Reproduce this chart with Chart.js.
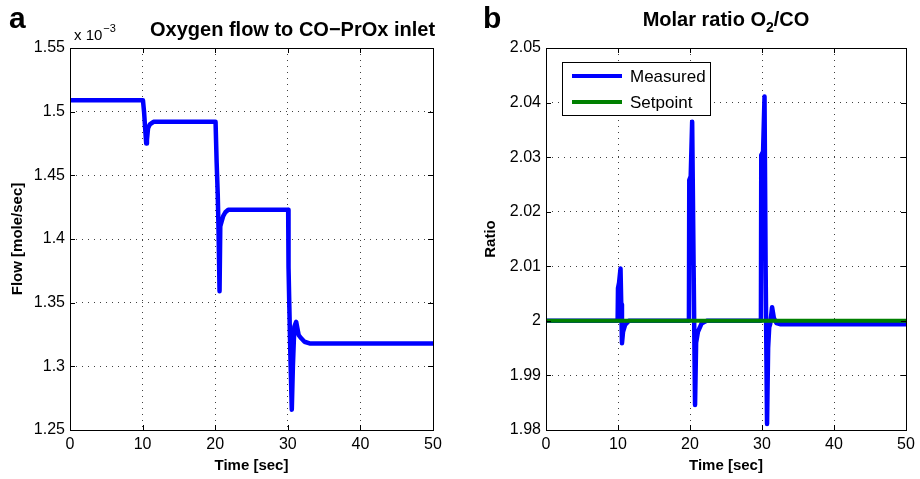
<!DOCTYPE html>
<html>
<head>
<meta charset="utf-8">
<script src="https://cdn.jsdelivr.net/npm/chart.js@4.4.1/dist/chart.umd.min.js"></script>
<style>
  body { margin: 0; background: #fff; }
  .wrap { position: absolute; top: 0; width: 460px; height: 479px; }
</style>
</head>
<body>
<div class="wrap" style="left:0"><canvas id="flowChart" width="460" height="479"></canvas></div>
<div class="wrap" style="left:460px"><canvas id="ratioChart" width="460" height="479"></canvas></div>
<script>
// Panel a: oxygen flow (x 10^-3 mole/sec)
var flowTime = [0, 10.05, 10.2, 10.35, 10.5, 10.6, 10.75, 11.0, 11.5,
  20.05, 20.2, 20.35, 20.45, 20.6, 20.7, 20.9, 21.1, 21.4, 21.8,
  30.05, 30.1, 30.2, 30.35, 30.55, 30.7, 30.9, 31.15, 31.5, 31.85, 32.3, 33.0, 50];
var flowValue = [1.509, 1.509, 1.500, 1.487, 1.475, 1.478, 1.487, 1.490, 1.492,
  1.492, 1.460, 1.435, 1.410, 1.359, 1.410, 1.414, 1.418, 1.421, 1.423,
  1.423, 1.378, 1.350, 1.310, 1.266, 1.300, 1.331, 1.335, 1.3245, 1.322, 1.3193, 1.318, 1.318];
var flowTicks = [1.25, 1.3, 1.35, 1.4, 1.45, 1.5, 1.55];

// Panel b: molar ratio O2/CO
var ratioTime = [0, 9.95, 10.0, 10.15, 10.35, 10.45, 10.55, 10.7, 11.0, 11.5,
  19.85, 19.9, 20.1, 20.3, 20.5, 20.7, 20.85, 21.1, 21.6, 22.3,
  29.85, 29.9, 30.15, 30.35, 30.5, 30.7, 30.85, 31.0, 31.15, 31.4, 31.65, 32.0, 32.5, 50];
var ratioMeasured = [2.0, 2.0, 2.006, 2.007, 2.0096, 2.003, 1.9959, 1.998, 1.9993, 2.0,
  2.0, 2.0258, 2.0265, 2.0365, 2.010, 1.9846, 1.996, 1.998, 1.9995, 2.0,
  2.0, 2.0304, 2.031, 2.0411, 2.010, 1.9811, 1.995, 1.9988, 1.9995, 2.0025, 2.0005, 1.9996, 1.9994, 1.9994];
var setpointTime = [0, 50];
var setpointValue = [2.0, 2.0];
var ratioTicks = [1.98, 1.99, 2.0, 2.01, 2.02, 2.03, 2.04, 2.05];

var timeTicks = [0, 10, 20, 30, 40, 50];

var FONT = 'Liberation Sans, Arial, Helvetica, sans-serif';

function points(xs, ys) {
    return xs.map(function (x, i) { return { x: x, y: ys[i] }; });
}

function fmt(v) {
    return String(Number(v.toFixed(3)));
}

// frame, inner tick marks, panel letter, title and legend
var decor = {
    id: 'decor',
    afterDraw: function (chart, args, o) {
        var ctx = chart.ctx, a = chart.chartArea;
        var sx = chart.scales.x, sy = chart.scales.y;
        ctx.save();
        ctx.strokeStyle = '#000';
        ctx.lineWidth = 1;
        ctx.beginPath();
        timeTicks.forEach(function (t) {
            var px = Math.round(sx.getPixelForValue(t)) + 0.5;
            ctx.moveTo(px, a.bottom); ctx.lineTo(px, a.bottom - 5);
            ctx.moveTo(px, a.top); ctx.lineTo(px, a.top + 5);
        });
        o.yTicks.forEach(function (t) {
            var py = Math.round(sy.getPixelForValue(t)) + 0.5;
            ctx.moveTo(a.left, py); ctx.lineTo(a.left + 5, py);
            ctx.moveTo(a.right, py); ctx.lineTo(a.right - 5, py);
        });
        ctx.stroke();
        ctx.strokeRect(Math.round(a.left) + 0.5, Math.round(a.top) + 0.5,
            Math.round(a.width), Math.round(a.height));

        ctx.fillStyle = '#000';
        ctx.textBaseline = 'alphabetic';
        ctx.textAlign = 'left';
        ctx.font = 'bold 30px ' + FONT;
        ctx.fillText(o.letter, o.letterX, 28);

        ctx.font = 'bold 20px ' + FONT;
        if (o.sub) {
            var p1 = o.title[0], p2 = o.title[1], p3 = o.title[2];
            var w1 = ctx.measureText(p1).width, w3 = ctx.measureText(p3).width;
            ctx.font = 'bold 14px ' + FONT;
            var w2 = ctx.measureText(p2).width;
            var x0 = (a.left + a.right) / 2 - (w1 + w2 + w3) / 2;
            ctx.font = 'bold 20px ' + FONT;
            ctx.fillText(p1, x0, 26);
            ctx.fillText(p3, x0 + w1 + w2, 26);
            ctx.font = 'bold 14px ' + FONT;
            ctx.fillText(p2, x0 + w1, 32);
        } else {
            ctx.fillText(o.title[0], o.titleX, 36);
        }

        if (o.exponent) {
            ctx.font = '15px ' + FONT;
            ctx.fillText('x 10', a.left + 4, 40);
            var wx = ctx.measureText('x 10').width;
            ctx.font = '11px ' + FONT;
            ctx.fillText('\u22123', a.left + 4 + wx + 1, 32);
        }

        if (o.legend) {
            var lx = a.left + 16, ly = a.top + 14, lw = 148, lh = 53;
            ctx.fillStyle = '#fff';
            ctx.fillRect(lx, ly, lw, lh);
            ctx.strokeRect(lx + 0.5, ly + 0.5, lw, lh);
            chart.data.datasets.forEach(function (ds, i) {
                var y = ly + 14 + i * 26;
                ctx.strokeStyle = ds.borderColor;
                ctx.lineWidth = 4;
                ctx.beginPath();
                ctx.moveTo(lx + 10, y); ctx.lineTo(lx + 60, y);
                ctx.stroke();
                ctx.fillStyle = '#000';
                ctx.font = '17px ' + FONT;
                ctx.textBaseline = 'middle';
                ctx.fillText(ds.label, lx + 68, y + 1);
            });
        }
        ctx.restore();
    }
};

function axes(yMin, yMax, yStep, yTitle, yWidth, yTitlePad) {
    return {
        x: {
            type: 'linear', min: 0, max: 50,
            ticks: { stepSize: 10, padding: 5, color: '#000', font: { family: FONT, size: 16 } },
            grid: { color: 'rgba(0,0,0,0.75)', lineWidth: 1, drawTicks: false },
            border: { display: false, dash: [1, 5] },
            title: { display: true, text: 'Time [sec]', color: '#000', padding: { top: 0, bottom: 4 },
                font: { family: FONT, size: 15, weight: 'bold' } },
            afterFit: function (s) { s.height = 49; }
        },
        y: {
            type: 'linear', min: yMin, max: yMax,
            ticks: { stepSize: yStep, padding: 5, color: '#000', font: { family: FONT, size: 16 },
                callback: function (v) { return fmt(v); } },
            grid: { color: 'rgba(0,0,0,0.75)', lineWidth: 1, drawTicks: false },
            border: { display: false, dash: [1, 5] },
            title: { display: true, text: yTitle, color: '#000', padding: { top: yTitlePad, bottom: 0 },
                font: { family: FONT, size: 15, weight: 'bold' } },
            afterFit: function (s) { s.width = yWidth; }
        }
    };
}

new Chart(document.getElementById('flowChart'), {
    type: 'line',
    data: {
        datasets: [{
            label: 'Flow',
            data: points(flowTime, flowValue),
            borderColor: 'rgb(0,0,255)',
            borderWidth: 4.5,
            borderJoinStyle: 'round',
            borderCapStyle: 'round',
            pointRadius: 0,
            tension: 0
        }]
    },
    options: {
        responsive: false,
        animation: false,
        layout: { padding: { top: 48, right: 27, bottom: 0, left: 0 } },
        plugins: {
            legend: { display: false },
            tooltip: { enabled: false },
            decor: { letter: 'a', letterX: 9, title: ['Oxygen flow to CO\u2212PrOx inlet'], titleX: 150,
                exponent: true, yTicks: flowTicks }
        },
        scales: axes(1.25, 1.55, 0.05, 'Flow [mole/sec]', 70, 9)
    },
    plugins: [decor]
});

new Chart(document.getElementById('ratioChart'), {
    type: 'line',
    data: {
        datasets: [{
            label: 'Measured',
            data: points(ratioTime, ratioMeasured),
            borderColor: 'rgb(0,0,255)',
            borderWidth: 4.5,
            borderJoinStyle: 'round',
            borderCapStyle: 'round',
            pointRadius: 0,
            tension: 0,
            order: 1
        }, {
            label: 'Setpoint',
            data: points(setpointTime, setpointValue),
            borderColor: 'rgb(0,128,0)',
            borderWidth: 4,
            pointRadius: 0,
            tension: 0,
            order: 0
        }]
    },
    options: {
        responsive: false,
        animation: false,
        layout: { padding: { top: 48, right: 14, bottom: 0, left: 0 } },
        plugins: {
            legend: { display: false },
            tooltip: { enabled: false },
            decor: { letter: 'b', letterX: 23, title: ['Molar ratio O', '2', '/CO'], sub: true,
                legend: true, yTicks: ratioTicks }
        },
        scales: axes(1.98, 2.05, 0.01, 'Ratio', 86, 22)
    },
    plugins: [decor]
});
</script>
</body>
</html>
